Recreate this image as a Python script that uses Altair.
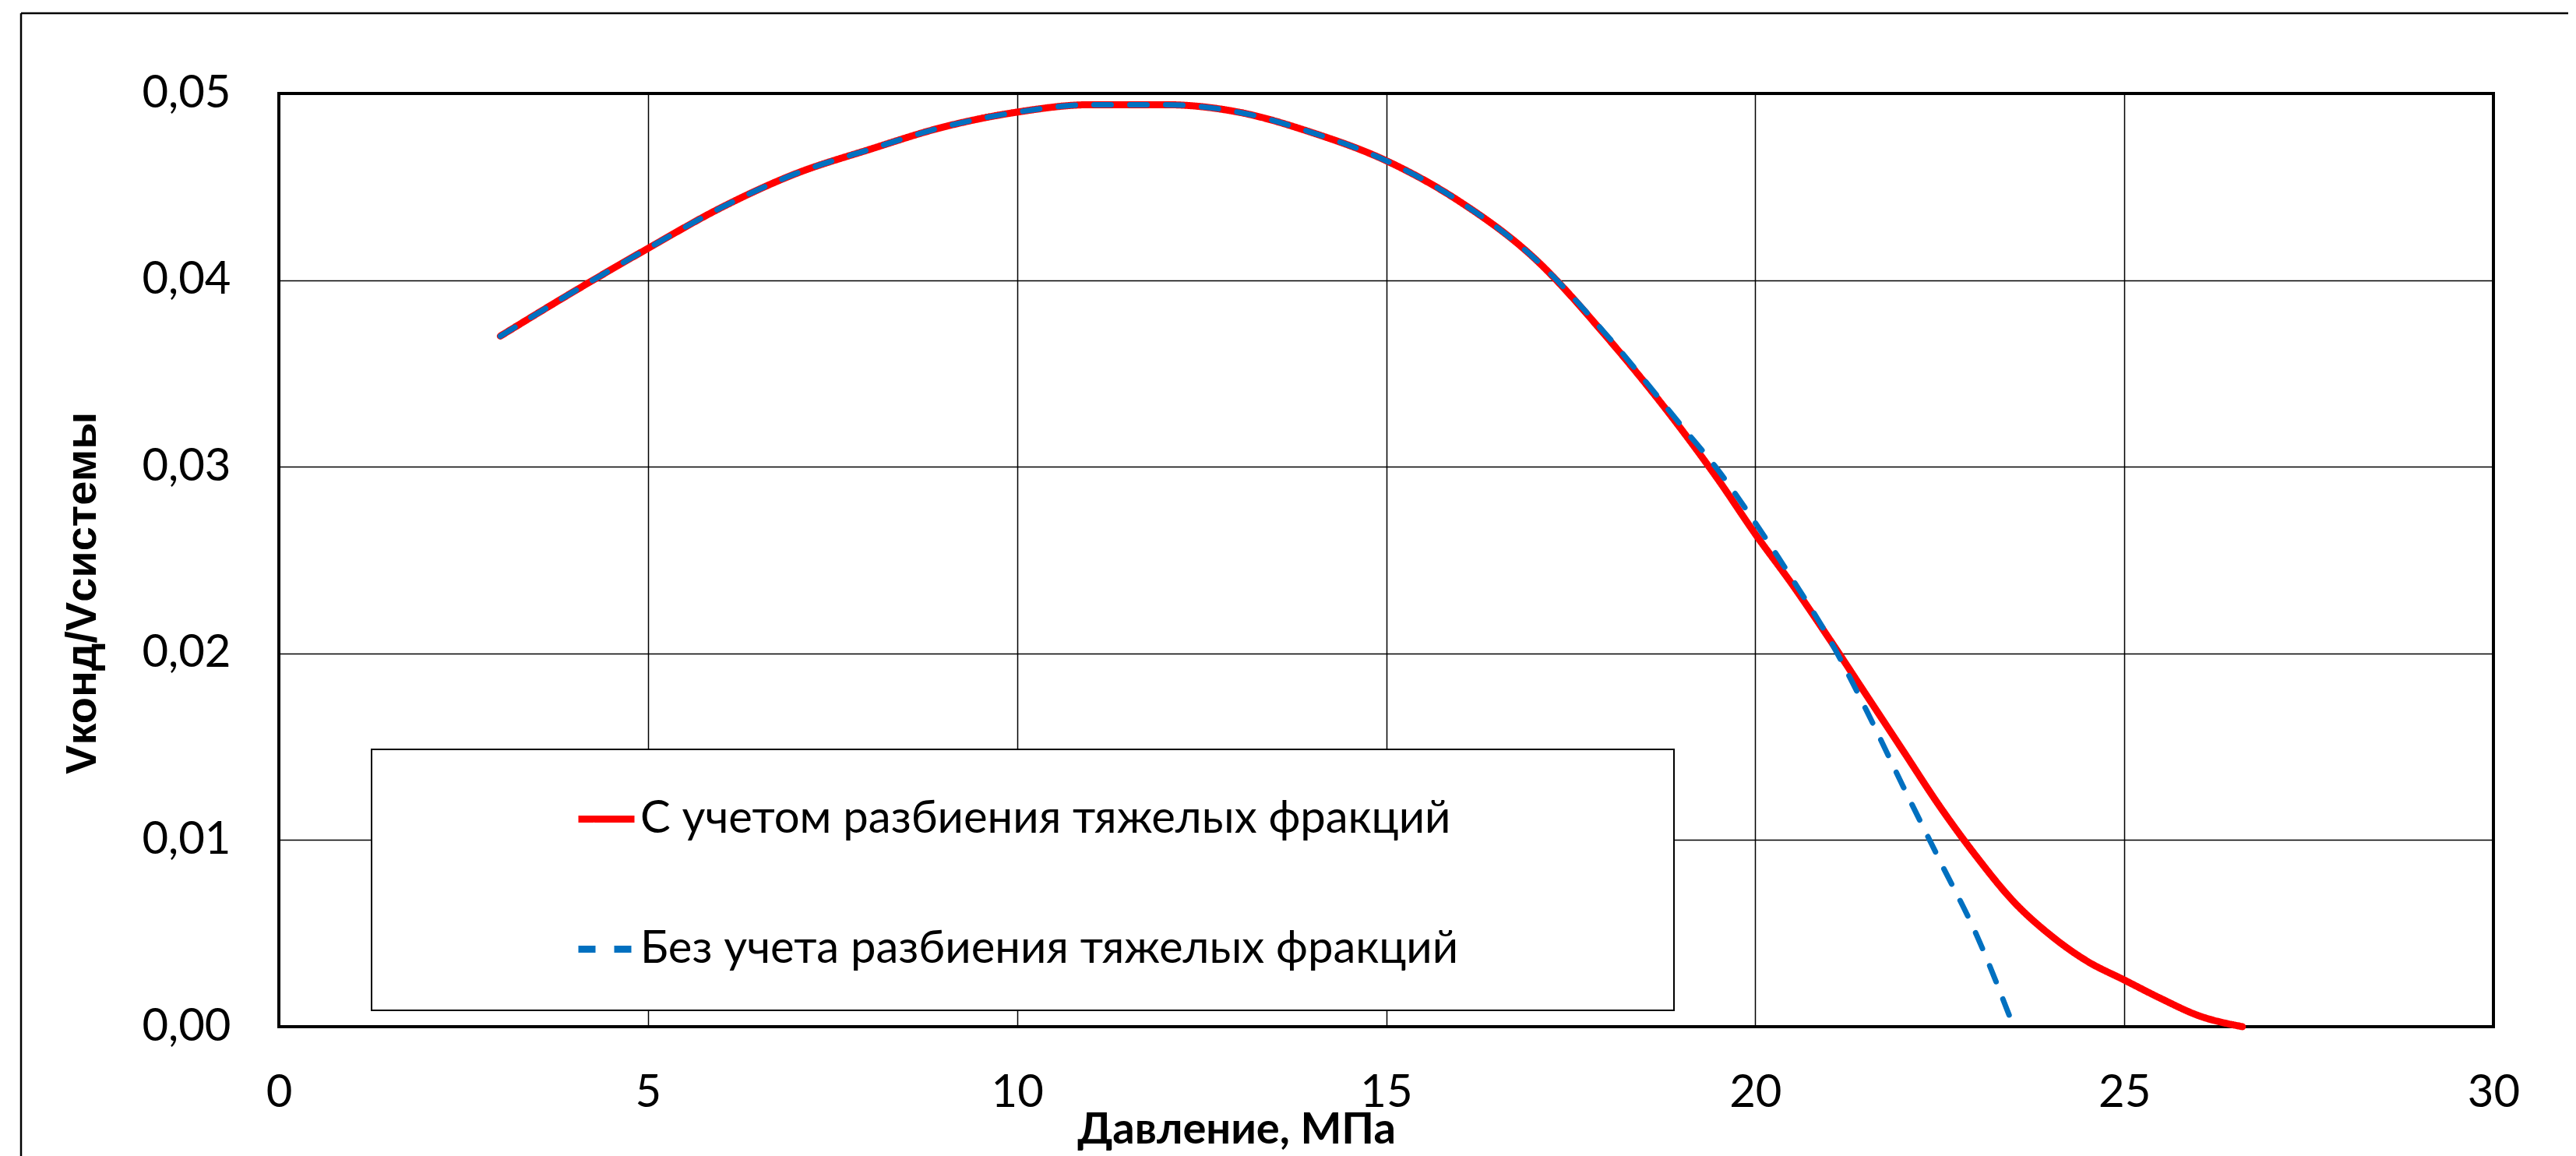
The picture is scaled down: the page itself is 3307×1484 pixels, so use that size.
import altair as alt
import pandas as pd

# ---- data ----
series_names = ["С учетом разбиения тяжелых фракций", "Без учета разбиения тяжелых фракций"]

p_red = [3, 4, 5, 6, 7, 8, 9, 10, 11, 12, 13, 14, 15, 16, 17, 18, 19, 19.5, 20, 20.5,
         21, 21.5, 22, 22.5, 23, 23.5, 24, 24.5, 25, 25.5, 26, 26.6]
v_red = [0.0370, 0.0394, 0.0417, 0.0439, 0.0457, 0.0470, 0.0482, 0.0490, 0.0494, 0.0494,
         0.0490, 0.0479, 0.0464, 0.0442, 0.0412, 0.0369, 0.0320, 0.0293, 0.0264, 0.0237,
         0.0208, 0.0178, 0.0148, 0.0118, 0.0091, 0.0067, 0.0049, 0.0035, 0.0025, 0.0015,
         0.0006, 0.0]

p_blue = [3, 4, 5, 6, 7, 8, 9, 10, 11, 12, 13, 14, 15, 16, 17, 18, 19, 19.5, 20, 20.5,
          21, 21.5, 22, 22.5, 23, 23.5]
v_blue = [0.0370, 0.0394, 0.0417, 0.0439, 0.0457, 0.0470, 0.0482, 0.0490, 0.0494, 0.0494,
          0.0490, 0.0479, 0.0464, 0.0442, 0.0412, 0.0370, 0.0322, 0.0298, 0.0270, 0.0240,
          0.0208, 0.0170, 0.0129, 0.0089, 0.0049, 0.0]

x_ticks = [0, 5, 10, 15, 20, 25, 30]
y_ticks = [0.0, 0.01, 0.02, 0.03, 0.04, 0.05]

df_red = pd.DataFrame({"p": p_red, "v": v_red, "s": series_names[0]})
df_blue = pd.DataFrame({"p": p_blue, "v": v_blue, "s": series_names[1]})

W, H = 2843, 1198

legend = alt.Legend(
    orient="none", legendX=380, legendY=891, title=None, padding=0,
    labelFont="Lato", labelFontSize=58, labelColor="black", labelLimit=0,
    symbolType="stroke", symbolSize=5184, symbolStrokeWidth=9,
    rowPadding=97, labelOffset=3, direction="vertical",
)

color = alt.Color("s:N", scale=alt.Scale(domain=series_names, range=["#FF0000", "#0070C0"]), legend=legend)
dash = alt.StrokeDash("s:N", scale=alt.Scale(domain=series_names, range=[[1, 0], [22, 24]]), legend=legend)

x_enc = alt.X("p:Q", scale=alt.Scale(domain=[0, 30], nice=False),
              axis=alt.Axis(values=x_ticks, title="Давление, МПа", titleFont="Lato",
                            titleFontSize=56, titleFontWeight="bold", titleX=1229, titleY=149,
                            titleAlign="center", titleBaseline="alphabetic",
                            labelPadding=56, labelFlush=False, labelOverlap=False))
y_enc = alt.Y("v:Q", scale=alt.Scale(domain=[0, 0.05], nice=False),
              axis=alt.Axis(values=y_ticks, title="Vконд/Vсистемы", titleFont="Liberation Sans",
                            titleFontSize=56, titleFontWeight="bold", titleAngle=270,
                            titleX=-236, titleY=641, titleAlign="center", titleBaseline="alphabetic",
                            labelExpr="replace(format(datum.value, '.2f'), '.', ',')",
                            labelPadding=62, labelFlush=False, labelOverlap=False))

one = alt.Data(values=[{}])

legend_box = alt.Chart(one).mark_rect(fill="white", stroke="black", strokeWidth=2).encode(
    x=alt.value(119), x2=alt.value(1791), y=alt.value(842), y2=alt.value(1177))

red = alt.Chart(df_red).mark_line(strokeWidth=9, strokeCap="round", interpolate="monotone").encode(
    x=x_enc, y=y_enc, color=color, strokeDash=dash)
blue = alt.Chart(df_blue).mark_line(strokeWidth=7, strokeCap="round", interpolate="monotone").encode(
    x=x_enc, y=y_enc, color=color, strokeDash=dash)

frame_top = alt.Chart(one).mark_rule(color="black", strokeWidth=2.5).encode(
    x=alt.value(-331), x2=alt.value(2939), y=alt.value(-103))
frame_left = alt.Chart(one).mark_rule(color="black", strokeWidth=2.5).encode(
    x=alt.value(-331), y=alt.value(-103), y2=alt.value(1364))

chart = alt.layer(legend_box, red, blue, frame_top, frame_left).properties(
    width=W, height=H,
    autosize=alt.AutoSizeParams(type="none"),
    padding={"left": 358, "top": 120, "right": 106, "bottom": 166},
    background="white",
).configure_view(stroke="black", strokeWidth=4).configure_axis(
    labelFont="Lato", labelFontSize=58, labelColor="black", titleColor="black",
    grid=True, gridColor="black", gridWidth=1.5, gridOpacity=1,
    ticks=False, domain=False,
)

chart.save("out.html", embed_options={"renderer": "svg", "actions": False})
